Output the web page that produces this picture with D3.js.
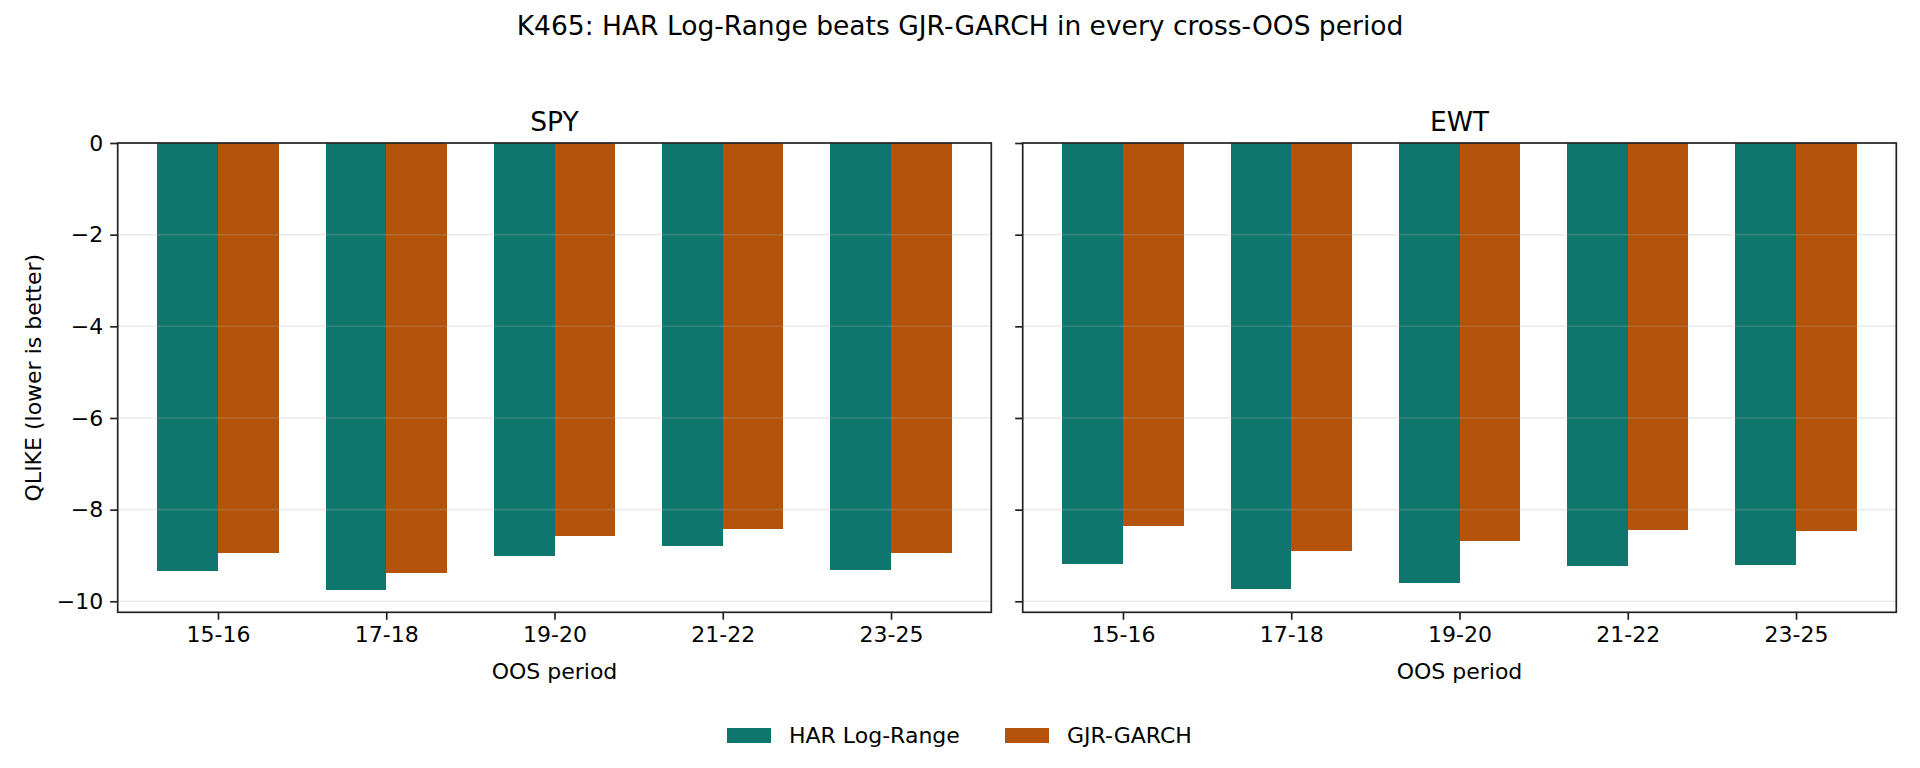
<!DOCTYPE html>
<html>
<head>
<meta charset="utf-8">
<script src="https://cdn.jsdelivr.net/npm/d3@7"></script>
<style>
  body { margin: 0; background: #fff; }
  svg { font-family: "DejaVu Sans", sans-serif; }
</style>
</head>
<body>
<div id="chart"></div>
<script>
const periods = ["15-16", "17-18", "19-20", "21-22", "23-25"]
const seriesNames = ["HAR Log-Range", "GJR-GARCH"]
const seriesColors = ["#0f766e", "#b45309"]
const panels = ["SPY", "EWT"]
const spyHar = [-9.34, -9.75, -9.02, -8.80, -9.32]
const spyGjr = [-8.95, -9.38, -8.58, -8.42, -8.95]
const ewtHar = [-9.19, -9.73, -9.60, -9.23, -9.21]
const ewtGjr = [-8.36, -8.90, -8.69, -8.45, -8.47]
const yTicks = [0, -2, -4, -6, -8, -10]

const panelData = { SPY: [spyHar, spyGjr], EWT: [ewtHar, ewtGjr] }

const width = 1920
const height = 768
const plotTop = 143
const plotBottom = 612.3
const panelX = [[117.7, 991.3], [1022.7, 1896.3]]
const barW = 0.36
const xPad = barW + 0.05 * (periods.length - 1 + 2 * barW)
const tickLen = 7.5
const small = "22px"
const big = "26.5px"

const svg = d3.select("#chart")
  .append("svg")
  .attr("width", width)
  .attr("height", height)

svg.append("text")
  .attr("x", width / 2)
  .attr("y", 35)
  .attr("text-anchor", "middle")
  .style("font-size", big)
  .text("K465: HAR Log-Range beats GJR-GARCH in every cross-OOS period")

const yScale = d3.scaleLinear()
  .domain([-10.24, 0])
  .range([plotBottom, plotTop])

panels.forEach((name, p) => {
  const [x0, x1] = panelX[p]
  const xScale = d3.scaleLinear()
    .domain([-xPad, periods.length - 1 + xPad])
    .range([x0, x1])

  const g = svg.append("g")

  // bars
  panelData[name].forEach((vals, s) => {
    g.selectAll(null)
      .data(vals)
      .enter()
      .append("rect")
      .attr("x", (d, i) => xScale(i + (s === 0 ? -barW : 0)))
      .attr("width", xScale(barW) - xScale(0))
      .attr("y", yScale(0))
      .attr("height", d => yScale(d) - yScale(0))
      .attr("fill", seriesColors[s])
      .attr("shape-rendering", "crispEdges")
  })

  // grid on top of bars, faint
  g.selectAll(null)
    .data(yTicks)
    .enter()
    .append("line")
    .attr("x1", x0)
    .attr("x2", x1)
    .attr("y1", d => yScale(d))
    .attr("y2", d => yScale(d))
    .attr("stroke", "#b0b0b0")
    .attr("stroke-opacity", 0.25)
    .attr("stroke-width", 1.6)

  // y axis
  const yAxis = d3.axisLeft(yScale)
    .tickValues(yTicks)
    .tickSize(tickLen)
    .tickPadding(7)
    .tickFormat(p === 0 ? (d => d3.format("d")(d).replace("-", "\u2212")) : "")
  const ya = g.append("g")
    .attr("transform", `translate(${x0},0)`)
    .call(yAxis)
  ya.select(".domain").remove()
  ya.selectAll("line").attr("stroke", "#222").attr("stroke-width", 1.7)
  ya.selectAll("text").style("font-size", small).attr("fill", "#000").style("font-family", "DejaVu Sans")

  // x axis
  const xAxis = d3.axisBottom(xScale)
    .tickValues(d3.range(periods.length))
    .tickSize(tickLen)
    .tickPadding(7)
    .tickFormat(i => periods[i])
  const xa = g.append("g")
    .attr("transform", `translate(0,${plotBottom})`)
    .call(xAxis)
  xa.select(".domain").remove()
  xa.selectAll("line").attr("stroke", "#222").attr("stroke-width", 1.7)
  xa.selectAll("text").style("font-size", small).attr("fill", "#000").style("font-family", "DejaVu Sans")

  // frame
  g.append("rect")
    .attr("x", x0)
    .attr("y", plotTop)
    .attr("width", x1 - x0)
    .attr("height", plotBottom - plotTop)
    .attr("fill", "none")
    .attr("stroke", "#222")
    .attr("stroke-width", 1.7)

  g.append("text")
    .attr("x", (x0 + x1) / 2)
    .attr("y", plotTop - 12.5)
    .attr("text-anchor", "middle")
    .style("font-size", big)
    .text(name)

  g.append("text")
    .attr("x", (x0 + x1) / 2)
    .attr("y", 679)
    .attr("text-anchor", "middle")
    .style("font-size", small)
    .text("OOS period")
})

svg.append("text")
  .attr("transform", `translate(41,${(plotTop + plotBottom) / 2}) rotate(-90)`)
  .attr("text-anchor", "middle")
  .style("font-size", small)
  .text("QLIKE (lower is better)")

// legend
const legendX = [727, 1005]
const legend = svg.append("g")
seriesNames.forEach((n, s) => {
  legend.append("rect")
    .attr("x", legendX[s])
    .attr("y", 728)
    .attr("width", 44)
    .attr("height", 15)
    .attr("fill", seriesColors[s])
  legend.append("text")
    .attr("x", legendX[s] + 62)
    .attr("y", 743)
    .style("font-size", small)
    .text(n)
})
</script>
</body>
</html>
